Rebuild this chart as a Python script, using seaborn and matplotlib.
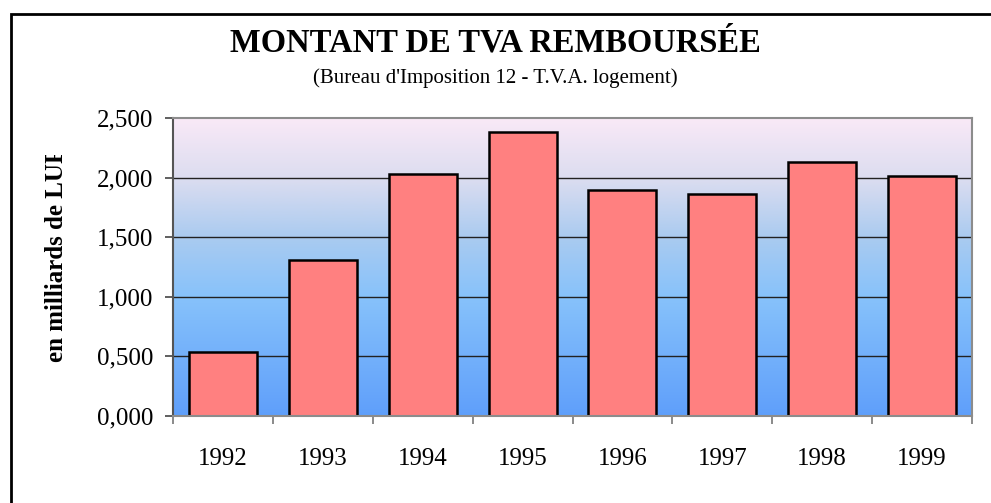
import numpy as np
import matplotlib
matplotlib.use('Agg')
import matplotlib.pyplot as plt
import seaborn as sns
from matplotlib.colors import LinearSegmentedColormap
from matplotlib.transforms import Bbox, TransformedBbox
from matplotlib.patches import Rectangle

# données
years = ['1992', '1993', '1994', '1995', '1996', '1997', '1998', '1999']
values = [0.534, 1.306, 2.030, 2.383, 1.896, 1.860, 2.131, 2.011]
yticks = [0.0, 0.5, 1.0, 1.5, 2.0, 2.5]

sns.set_theme(style='white')
plt.rcParams['font.family'] = ['Liberation Serif', 'DejaVu Serif']
plt.rcParams['text.color'] = 'black'
plt.rcParams['xtick.color'] = 'black'
plt.rcParams['ytick.color'] = 'black'

fig = plt.figure(figsize=(9.91, 5.03), dpi=100)
ax = fig.add_axes([173 / 991, 1 - 416 / 503, (972 - 173) / 991, (416 - 118) / 503])

# fond dégradé (bleu -> rose)
cmap = LinearSegmentedColormap.from_list('fond', [
    (0.00, '#5f9ffa'),
    (0.40, '#87c2fb'),
    (0.60, '#aacbf0'),
    (0.80, '#dcddf0'),
    (1.00, '#f9e9f7'),
])
grad = np.linspace(0, 1, 256).reshape(-1, 1)
ax.imshow(grad, extent=[-0.5, 7.5, 0, 2.5], aspect='auto', origin='lower',
          cmap=cmap, zorder=0, interpolation='bicubic')

sns.barplot(x=years, y=values, color='#ff8080', saturation=1, width=0.68,
            edgecolor='black', linewidth=1.8, ax=ax, zorder=2)

ax.set_xlim(-0.5, 7.5)
ax.set_ylim(0, 2.5)
ax.set_yticks(yticks)
ax.set_yticklabels([f'{v:.3f}'.replace('.', ',') for v in yticks])
for y in yticks[1:-1]:
    ax.axhline(y, color='#222222', linewidth=1.0, zorder=1)

ax.set_xticks(range(len(years)))
ax.set_xticklabels(years)
ax.set_xticks(np.arange(-0.5, 8, 1), minor=True)
ax.tick_params(axis='x', which='major', length=0, pad=23, labelsize=18)
ax.tick_params(axis='x', which='minor', bottom=True, length=6, width=1.2,
               color='#777777', direction='out')
ax.tick_params(axis='y', which='major', left=True, length=6, width=1.2,
               color='#444444', direction='out', pad=8, labelsize=18)
ax.set_xlabel('')
ax.set_ylabel('')

for side in ['top', 'right', 'bottom']:
    ax.spines[side].set_color('#8c8c8c')
    ax.spines[side].set_linewidth(1.5)
ax.spines['left'].set_color('#555555')
ax.spines['left'].set_linewidth(1.5)

# titres
fig.text(0.5, 1 - 43 / 503, 'MONTANT DE TVA REMBOURSÉE', ha='center', va='center',
         fontsize=23.5, fontweight='bold', color='black')
fig.text(0.5, 1 - 78 / 503, "(Bureau d'Imposition 12 - T.V.A. logement)", ha='center',
         va='center', fontsize=15, color='black')

# libellé vertical, coupé en haut comme sur l'original
lab = fig.text(57 / 991, 1 - 362 / 503, 'en milliards de LUF', rotation=90,
               ha='center', va='bottom', fontsize=18, fontweight='bold', color='black')
lab.set_clip_box(TransformedBbox(Bbox([[0, 0], [1, 1 - 155 / 503]]), fig.transFigure))
lab.set_clip_on(True)

# cadre extérieur
fig.patches.append(Rectangle((11 / 991, -0.2), 1.2, 1.2 - 14 / 503,
                             transform=fig.transFigure, fill=False,
                             edgecolor='black', linewidth=2.0))

fig.savefig('out.png', dpi=100, facecolor='white')
